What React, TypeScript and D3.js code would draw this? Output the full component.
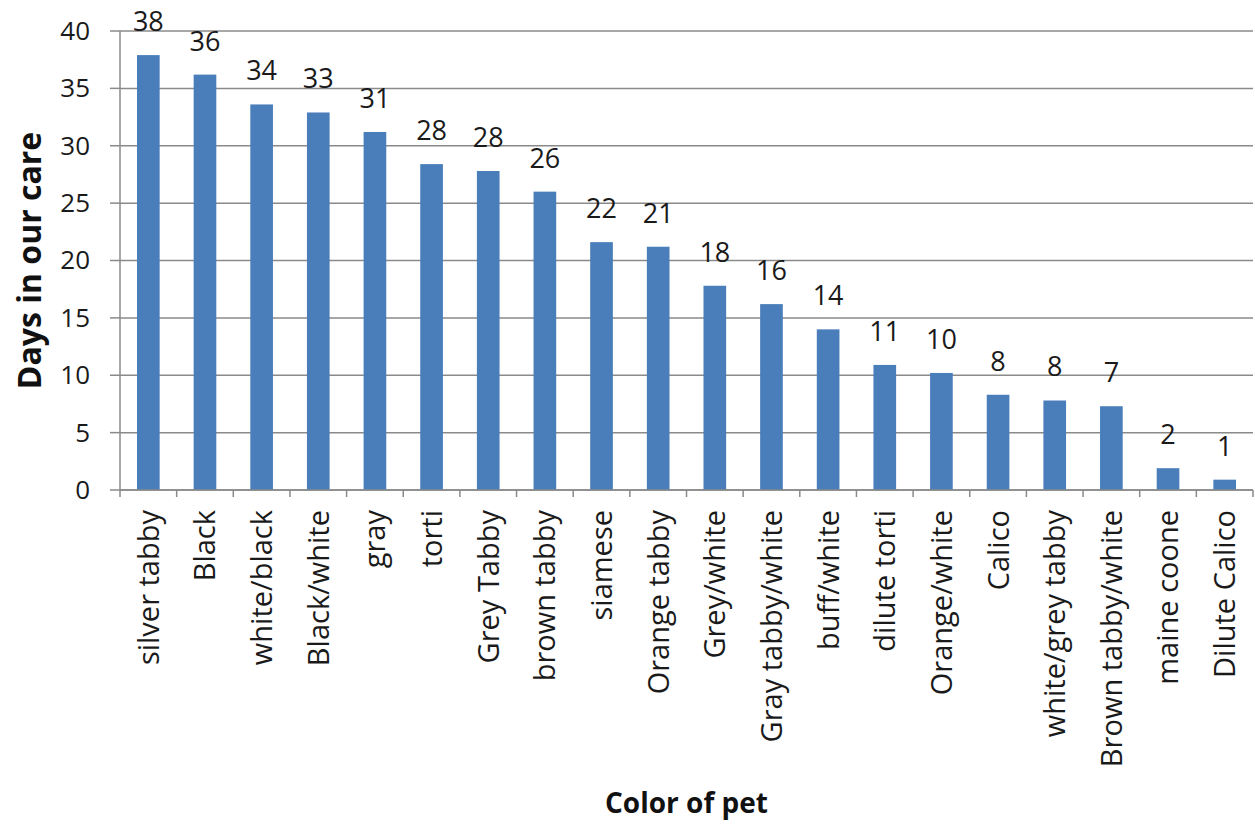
import React from "react";
import * as d3 from "d3";

const categories = [
  "silver tabby", "Black", "white/black", "Black/white", "gray", "torti",
  "Grey Tabby", "brown tabby", "siamese", "Orange tabby", "Grey/white",
  "Gray tabby/white", "buff/white", "dilute torti", "Orange/white", "Calico",
  "white/grey tabby", "Brown tabby/white", "maine coone", "Dilute Calico",
];
const values = [
  37.9, 36.2, 33.6, 32.9, 31.2, 28.4, 27.8, 26.0, 21.6, 21.2, 17.8,
  16.2, 14.0, 10.9, 10.2, 8.3, 7.8, 7.3, 1.9, 0.9,
];
const valueLabels = [
  "38", "36", "34", "33", "31", "28", "28", "26", "22", "21", "18",
  "16", "14", "11", "10", "8", "8", "7", "2", "1",
];
const yTicks = [0, 5, 10, 15, 20, 25, 30, 35, 40];
const yTitle = "Days in our care";
const xTitle = "Color of pet";

const W = 1255;
const H = 829;
const left = 120;
const right = 1253;
const top = 31;
const bottom = 490;
const font = "'Open Sans', 'Noto Sans', sans-serif";
const barColor = "#4A7EBB";
const gridColor = "#8A8A8A";

export default function App() {
  const x = d3.scaleBand<string>().domain(categories).range([left, right]).padding(0);
  const y = d3.scaleLinear().domain([0, 40]).range([bottom, top]);
  const bw = x.bandwidth() * 0.4;

  return (
    <svg
      width={W}
      height={H}
      style={{ position: "absolute", left: 0, top: 0, display: "block", background: "#fff" }}
    >
      {yTicks.map((t) => (
        <g key={t}>
          <line x1={left} x2={right} y1={y(t)} y2={y(t)} stroke={gridColor} strokeWidth={1.5} />
          <line x1={left - 10} x2={left} y1={y(t)} y2={y(t)} stroke={gridColor} strokeWidth={1.5} />
          <text
            x={left - 30}
            y={y(t) + 2}
            textAnchor="end"
            dominantBaseline="middle"
            fontFamily={font}
            fontSize={26}
            fill="#1a1a1a"
          >
            {t}
          </text>
        </g>
      ))}
      <line x1={left} x2={left} y1={top} y2={bottom} stroke={gridColor} strokeWidth={1.5} />
      {categories.map((c, i) => (
        <line
          key={"tk" + i}
          x1={(x(c) as number)}
          x2={(x(c) as number)}
          y1={bottom}
          y2={bottom + 7}
          stroke={gridColor}
          strokeWidth={1.5}
        />
      ))}
      <line x1={right} x2={right} y1={bottom} y2={bottom + 7} stroke={gridColor} strokeWidth={1.5} />
      {categories.map((c, i) => {
        const cx = (x(c) as number) + x.bandwidth() / 2;
        return (
          <g key={c}>
            <rect x={cx - bw / 2} y={y(values[i])} width={bw} height={bottom - y(values[i])} fill={barColor} />
            <text
              x={cx}
              y={y(values[i]) - 24}
              textAnchor="middle"
              fontFamily={font}
              fontSize={27}
              fill="#1a1a1a"
            >
              {valueLabels[i]}
            </text>
            <text
              transform={`translate(${cx},${bottom + 20}) rotate(-90)`}
              textAnchor="end"
              dy="0.36em"
              fontFamily={font}
              fontSize={29}
              fill="#1a1a1a"
            >
              {c}
            </text>
          </g>
        );
      })}
      <line x1={left} x2={right} y1={bottom} y2={bottom} stroke={gridColor} strokeWidth={1.5} />
      <text
        transform={`translate(32,${(top + bottom) / 2}) rotate(-90)`}
        textAnchor="middle"
        dominantBaseline="middle"
        fontFamily={font}
        fontWeight="bold"
        fontSize={32}
        fill="#111"
      >
        {yTitle}
      </text>
      <text
        x={(left + right) / 2}
        y={806}
        textAnchor="middle"
        dominantBaseline="middle"
        fontFamily={font}
        fontWeight="bold"
        fontSize={28}
        fill="#111"
      >
        {xTitle}
      </text>
    </svg>
  );
}
